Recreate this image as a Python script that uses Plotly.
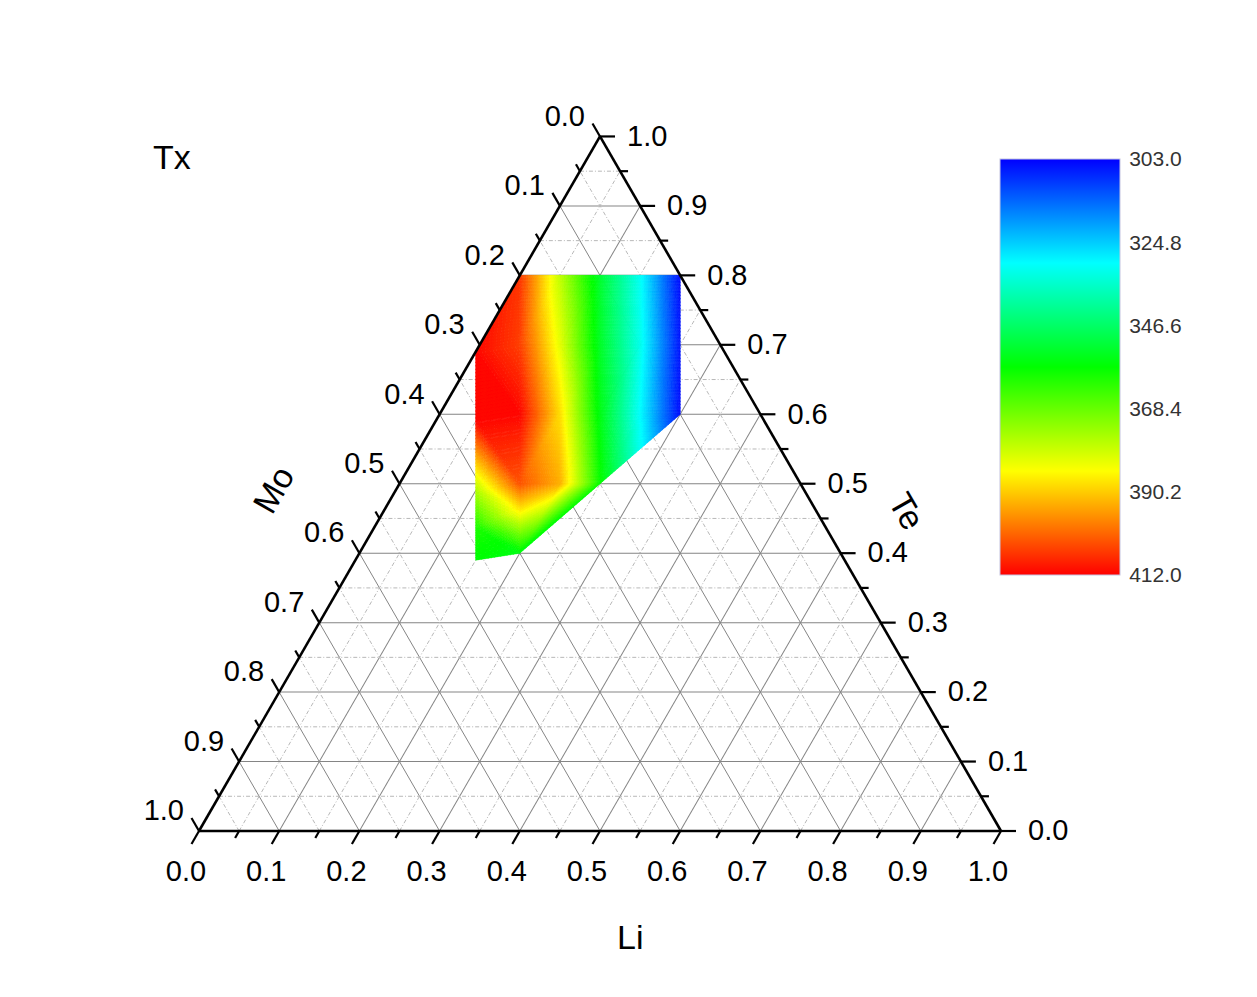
import math
import plotly.graph_objects as go

# ---------------------------------------------------------------- data
# Li-Mo-Te compositions (mole fractions) and crystallisation temperature Tx
te = [0.80, 0.80, 0.80, 0.80, 0.80,
      0.69, 0.70, 0.70, 0.70, 0.70, 0.70,
      0.59, 0.60, 0.60, 0.60, 0.60, 0.60,
      0.49, 0.50, 0.50, 0.50, 0.465, 0.44, 0.39, 0.40]
li = [0.00, 0.05, 0.10, 0.15, 0.20,
      0.00, 0.05, 0.10, 0.15, 0.20, 0.25,
      0.05, 0.10, 0.15, 0.20, 0.25, 0.30,
      0.10, 0.15, 0.20, 0.25, 0.168, 0.125, 0.15, 0.20]
mo = [0.20, 0.15, 0.10, 0.05, 0.00,
      0.31, 0.25, 0.20, 0.15, 0.10, 0.05,
      0.36, 0.30, 0.25, 0.20, 0.15, 0.10,
      0.41, 0.35, 0.30, 0.25, 0.367, 0.435, 0.46, 0.40]
tx = [406, 378, 352, 331, 304,
      411, 405, 382, 353, 332, 305,
      411, 411, 388, 355, 330, 304,
      376, 403, 393, 358, 388, 361, 357, 355]

major_ticks = [0.0, 0.1, 0.2, 0.3, 0.4, 0.5, 0.6, 0.7, 0.8, 0.9, 1.0]
minor_ticks = [0.05, 0.15, 0.25, 0.35, 0.45, 0.55, 0.65, 0.75, 0.85, 0.95]
cbar_ticks = [303.0, 324.8, 346.6, 368.4, 390.2, 412.0]
tx_min, tx_max = 303.0, 412.0

# rainbow colour map (value -> colour)
cmap_values = [303.0, 330.25, 357.5, 384.75, 412.0]
cmap_colors = [(0, 0, 255), (0, 255, 255), (0, 255, 0), (255, 255, 0), (255, 0, 0)]

# ---------------------------------------------------------------- geometry
W, H = 1257, 997
TRI_LEFT = 199.0      # px of the Mo corner from the left edge
TRI_BOTTOM = 831.0    # px of the base from the top edge
SIDE = 802.0          # triangle side in px
SQ3 = math.sqrt(3) / 2
TRI_H = SIDE * SQ3
FONT = "Liberation Sans, Arial, sans-serif"
MAJOR_LEN, MINOR_LEN = 15.0, 8.0


def cart(t, l):
    """Te/Li composition -> planar coordinates (side length 1)."""
    return l + 0.5 * t, SQ3 * t


def rgb_at(v):
    v = min(max(v, cmap_values[0]), cmap_values[-1])
    for k in range(len(cmap_values) - 1):
        v0, v1 = cmap_values[k], cmap_values[k + 1]
        if v <= v1:
            f = (v - v0) / (v1 - v0)
            c0, c1 = cmap_colors[k], cmap_colors[k + 1]
            return "rgb(%d,%d,%d)" % tuple(round(a + (b - a) * f) for a, b in zip(c0, c1))
    return "rgb(%d,%d,%d)" % cmap_colors[-1]


def circumcircle(p, q, r):
    ax, ay = p
    bx, by = q
    cx, cy = r
    d = 2 * (ax * (by - cy) + bx * (cy - ay) + cx * (ay - by))
    if abs(d) < 1e-14:
        return 0.0, 0.0, float("inf")
    a2, b2, c2 = ax * ax + ay * ay, bx * bx + by * by, cx * cx + cy * cy
    ux = (a2 * (by - cy) + b2 * (cy - ay) + c2 * (ay - by)) / d
    uy = (a2 * (cx - bx) + b2 * (ax - cx) + c2 * (bx - ax)) / d
    return ux, uy, (ax - ux) ** 2 + (ay - uy) ** 2


def delaunay(pts):
    """Bowyer-Watson triangulation of the measured compositions."""
    n = len(pts)
    P = list(pts) + [(-200.0, -200.0), (200.0, -200.0), (0.0, 200.0)]
    tris = [(n, n + 1, n + 2)]
    for i in range(n):
        px, py = P[i]
        bad = []
        for t in tris:
            ux, uy, r2 = circumcircle(P[t[0]], P[t[1]], P[t[2]])
            if (px - ux) ** 2 + (py - uy) ** 2 < r2 * (1 - 1e-12):
                bad.append(t)
        count = {}
        for t in bad:
            for e in ((t[0], t[1]), (t[1], t[2]), (t[2], t[0])):
                k = tuple(sorted(e))
                count[k] = count.get(k, 0) + 1
        tris = [t for t in tris if t not in bad]
        for (a, b), c in count.items():
            if c == 1:
                tris.append((a, b, i))
    out = []
    for t in tris:
        if max(t) >= n:
            continue
        (x0, y0), (x1, y1), (x2, y2) = (P[k] for k in t)
        if abs((x1 - x0) * (y2 - y0) - (x2 - x0) * (y1 - y0)) > 1e-10:
            out.append(t)
    return out


# ---------------------------------------------------------------- filled Tx map
xy = [cart(t, l) for t, l in zip(te, li)]
triangles = delaunay(xy)

STEP = 0.5
bands = {}
for tri in triangles:
    T = [(te[k], li[k]) for k in tri]
    V = [tx[k] for k in tri]
    edge = max(math.dist(xy[tri[k]], xy[tri[(k + 1) % 3]]) for k in range(3)) * SIDE
    n = max(2, int(math.ceil(edge / 4.0)))

    def node(i, j):
        return (T[0][0] + (T[1][0] - T[0][0]) * i / n + (T[2][0] - T[0][0]) * j / n,
                T[0][1] + (T[1][1] - T[0][1]) * i / n + (T[2][1] - T[0][1]) * j / n)

    for i in range(n):
        for j in range(n - i):
            cells = [((i, j), (i + 1, j), (i, j + 1))]
            if i + j < n - 1:
                cells.append(((i + 1, j), (i + 1, j + 1), (i, j + 1)))
            for cell in cells:
                ci = sum(c[0] for c in cell) / (3.0 * n)
                cj = sum(c[1] for c in cell) / (3.0 * n)
                v = V[0] + (V[1] - V[0]) * ci + (V[2] - V[0]) * cj
                lvl = int(round((v - tx_min) / STEP))
                A, B, C = bands.setdefault(lvl, ([], [], []))
                ring = [node(*c) for c in cell]
                for (pt, pl) in ring + [ring[0]]:
                    A.append(pt)
                    C.append(pl)
                    B.append(1.0 - pt - pl)
                A.append(None)
                B.append(None)
                C.append(None)

fig = go.Figure()

# dotted minor grid (0.05 steps) underneath the map
ga, gb, gc = [], [], []
for v in minor_ticks:
    for seg in (((v, 1 - v, 0.0), (v, 0.0, 1 - v)),        # Te = v
                ((0.0, 1 - v, v), (1 - v, 0.0, v)),        # Li = v
                ((0.0, v, 1 - v), (1 - v, v, 0.0))):       # Mo = v
        for p in seg:
            ga.append(p[0]); gb.append(p[1]); gc.append(p[2])
        ga.append(None); gb.append(None); gc.append(None)
fig.add_trace(go.Scatterternary(
    a=ga, b=gb, c=gc, mode="lines",
    line=dict(color="#b8b8b8", width=1, dash="4px,2px,1px,2px"),
    hoverinfo="skip", showlegend=False))

for lvl in sorted(bands):
    A, B, C = bands[lvl]
    col = rgb_at(tx_min + lvl * STEP)
    fig.add_trace(go.Scatterternary(
        a=A, b=B, c=C, mode="lines", fill="toself", fillcolor=col,
        line=dict(color=col, width=0.6), hoverinfo="skip", showlegend=False))

# colour scale carrier (reversed so that the lowest Tx sits on top)
cscale = [[(tx_max - v) / (tx_max - tx_min), "rgb(%d,%d,%d)" % c]
          for v, c in zip(reversed(cmap_values), reversed(cmap_colors))]
fig.add_trace(go.Scatterternary(
    a=te, b=mo, c=li, mode="markers", hoverinfo="skip", showlegend=False,
    marker=dict(
        size=0, opacity=0, color=[-v for v in tx], colorscale=cscale,
        cmin=-tx_max, cmax=-tx_min, showscale=True,
        colorbar=dict(
            thickness=120, thicknessmode="pixels",
            len=416, lenmode="pixels",
            x=1000 / W, xanchor="left", y=(H - 159) / H, yanchor="top",
            xpad=0, ypad=0, outlinewidth=1, outlinecolor="#c4c4e0",
            tickmode="array", tickvals=[-v for v in cbar_ticks],
            ticktext=["%.1f" % v for v in cbar_ticks],
            ticks="outside", ticklen=5, tickcolor="rgba(0,0,0,0)",
            tickfont=dict(family=FONT, size=21, color="#333333")))))

# ---------------------------------------------------------------- axis ticks and labels
tick_x, tick_y = [], []
for vals, length in ((major_ticks, MAJOR_LEN), (minor_ticks, MINOR_LEN)):
    L = length / SIDE
    for v in vals:
        x0, y0 = cart(0.0, v)            # Li axis (base)
        tick_x += [x0, x0 - 0.5 * L, None]; tick_y += [y0, y0 - SQ3 * L, None]
        x0, y0 = cart(v, 1.0 - v)        # Te axis (right side)
        tick_x += [x0, x0 + L, None]; tick_y += [y0, y0, None]
        x0, y0 = cart(1.0 - v, 0.0)      # Mo axis (left side)
        tick_x += [x0, x0 - 0.5 * L, None]; tick_y += [y0, y0 + SQ3 * L, None]
fig.add_trace(go.Scatter(x=tick_x, y=tick_y, mode="lines",
                         line=dict(color="black", width=2.2),
                         hoverinfo="skip", showlegend=False))

labels = ["%.1f" % v for v in major_ticks]
lab_font = dict(family=FONT, size=29, color="black")
for pos, offs, anchor in (
        ([cart(0.0, v) for v in major_ticks], (-13, 43), "middle center"),
        ([cart(v, 1.0 - v) for v in major_ticks], (27, 2), "middle right"),
        ([cart(1.0 - v, 0.0) for v in major_ticks], (-15, -18), "middle left")):
    fig.add_trace(go.Scatter(
        x=[p[0] + offs[0] / SIDE for p in pos],
        y=[p[1] - offs[1] / SIDE for p in pos],
        mode="text", text=labels, textposition=anchor, textfont=lab_font,
        hoverinfo="skip", showlegend=False))

# ---------------------------------------------------------------- layout
tern_axis = dict(
    min=0, showline=True, linecolor="black", linewidth=2.6,
    showgrid=True, gridcolor="#858585", gridwidth=1,
    tickmode="linear", tick0=0, dtick=0.1,
    ticks="", showticklabels=False, title=dict(text=""), layer="above traces")

title_font = dict(family=FONT, size=34, color="black")
fig.update_layout(
    template="none", width=W, height=H, autosize=False,
    margin=dict(l=0, r=0, t=0, b=0, pad=0),
    paper_bgcolor="white", plot_bgcolor="rgba(0,0,0,0)",
    showlegend=False,
    ternary=dict(
        sum=1, bgcolor="white",
        domain=dict(x=[TRI_LEFT / W, (TRI_LEFT + SIDE) / W],
                    y=[(H - TRI_BOTTOM) / H, (H - TRI_BOTTOM + TRI_H) / H]),
        aaxis=tern_axis, baxis=tern_axis, caxis=tern_axis),
    xaxis=dict(visible=False, domain=[0, 1], fixedrange=True,
               range=[-TRI_LEFT / SIDE, (W - TRI_LEFT) / SIDE]),
    yaxis=dict(visible=False, domain=[0, 1], fixedrange=True,
               range=[-(H - TRI_BOTTOM) / SIDE, TRI_BOTTOM / SIDE]),
    annotations=[
        dict(text="Tx", x=172 / W, y=1 - 157 / H, xref="paper", yref="paper",
             showarrow=False, font=title_font, xanchor="center", yanchor="middle"),
        dict(text="Li", x=630 / W, y=1 - 937 / H, xref="paper", yref="paper",
             showarrow=False, font=title_font, xanchor="center", yanchor="middle"),
        dict(text="Mo", x=273 / W, y=1 - 490 / H, xref="paper", yref="paper",
             showarrow=False, font=title_font, textangle=-60,
             xanchor="center", yanchor="middle"),
        dict(text="Te", x=907 / W, y=1 - 511 / H, xref="paper", yref="paper",
             showarrow=False, font=title_font, textangle=60,
             xanchor="center", yanchor="middle"),
    ],
)

fig.write_html("out.html")
